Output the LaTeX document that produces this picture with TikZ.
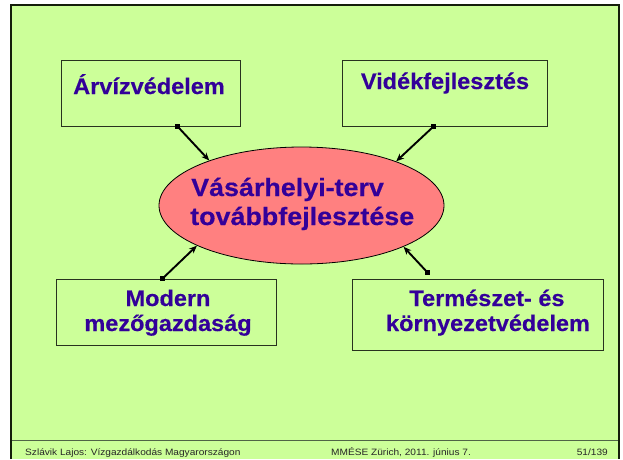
\documentclass[tikz,border=0pt]{standalone}
\usepackage{fontspec}
\setmainfont{Liberation Sans}
\newfontfamily\widefont[FakeStretch=1.1]{Liberation Sans}
\newfontfamily\boxfont[FakeStretch=1.045,FakeBold=0.35]{Liberation Sans Bold}
\newfontfamily\ellfont[FakeStretch=1.075,FakeBold=0.35]{Liberation Sans Bold}
\usetikzlibrary{arrows.meta,shapes.geometric,calc}
\definecolor{bg}{HTML}{CCFF99}
\definecolor{ellfill}{HTML}{FF8080}
\definecolor{txt}{HTML}{330099}
\definecolor{edge}{RGB}{40,50,30}
\definecolor{frame}{RGB}{20,30,10}
\definecolor{footline}{RGB}{80,100,70}
\begin{document}
\begin{tikzpicture}[x=1pt,y=-1pt,
  topicbox/.style={draw=edge,line width=0.9pt,inner sep=0pt},
  tlabel/.style={text=txt,font=\boxfont\fontsize{22.5}{25}\selectfont,inner sep=0pt,anchor=base},
  elabel/.style={text=txt,font=\ellfont\fontsize{25}{29}\selectfont,inner sep=0pt,anchor=base west},
  foot/.style={text=black!85,font=\widefont\fontsize{9.2}{11}\selectfont,inner sep=0pt},
  linkarrow/.style={line width=1.9pt,-{Stealth[length=8pt,width=6.5pt]}},
  endsquare/.style={fill=black}
]
\useasboundingbox (0,0) rectangle (623,459);
\fill[bg] (11,5) rectangle (619,459);
\draw[frame,line width=2pt] (11,459) -- (11,5) -- (619,5) -- (619,459);
\draw[footline,line width=0.9pt] (12,440.5) -- (618,440.5);

% boxes
\node[topicbox,minimum width=179pt,minimum height=66pt] (arv) at (150.5,93) {};
\node[topicbox,minimum width=205pt,minimum height=66pt] (vid) at (444.5,93) {};
\node[topicbox,minimum width=220pt,minimum height=66pt] (mod) at (166,312) {};
\node[topicbox,minimum width=251pt,minimum height=71pt] (ter) at (477.5,314.5) {};

% ellipse
\node[ellipse,draw=black,line width=0.8pt,fill=ellfill,minimum width=285pt,minimum height=117pt,inner sep=0pt] (ell) at (301.5,205.5) {};

% texts
\node[tlabel] (t1) at (149,94) {Árvízvédelem};
\node[tlabel] (t2) at (445,89) {Vidékfejlesztés};
\node[tlabel] (t3a) at (168,306) {Modern};
\node[tlabel] (t3b) at (168,331) {mezőgazdaság};
\node[tlabel] (t4a) at (487,306) {Természet- és};
\node[tlabel] (t4b) at (488,331) {környezetvédelem};
\node[elabel] (e1) at (191,196) {Vásárhelyi-terv};
\node[elabel] (e2) at (190,225) {továbbfejlesztése};

% footer
\node[foot,anchor=base west] (f1) at (25,455) {Szlávik Lajos: Vízgazdálkodás Magyarországon};
\node[foot,anchor=base west] (f2) at (331,455) {MMÉSE Zürich, 2011. június 7.};
\node[foot,anchor=base east] (f3) at (608,455) {51/139};

% connector start points
\coordinate (s1) at ($(arv.south west)+(117,0)$);
\coordinate (s2) at ($(vid.south west)+(92,0)$);
\coordinate (s3) at ($(mod.north west)+(107,0)$);
\coordinate (s4) at ($(ter.north west)+(76,-6)$);

% connectors
\draw[linkarrow] (s1) -- (ell.154);
\draw[linkarrow] (s2) -- (ell.25);
\draw[linkarrow] (s3) -- (ell.201);
\draw[linkarrow] (s4) -- (ell.338);
\foreach \s in {s1,s2,s3,s4}
  \fill[endsquare] (\s) ++(-2.6,-2.6) rectangle ++(5.2,5.2);
\end{tikzpicture}
\end{document}
